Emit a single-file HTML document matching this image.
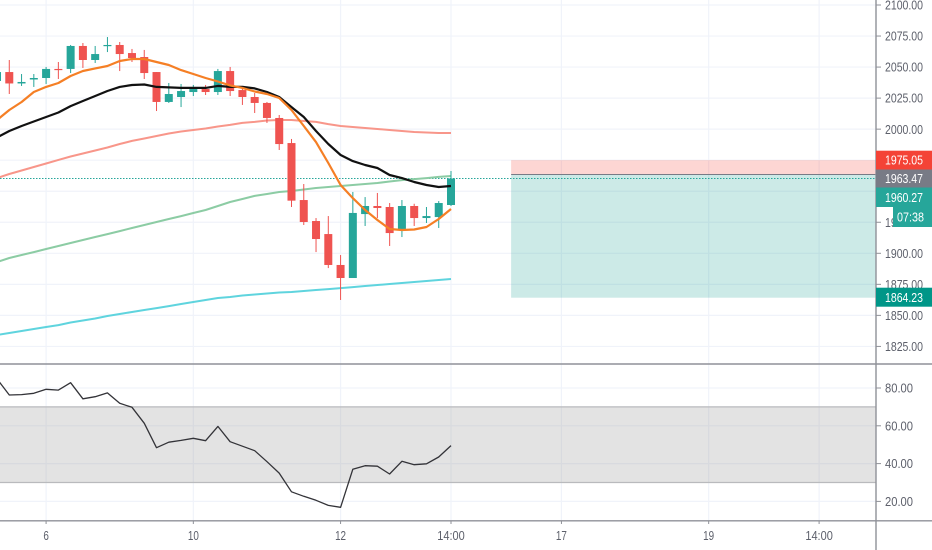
<!DOCTYPE html>
<html>
<head>
<meta charset="utf-8">
<title>Candlestick chart with RSI</title>
<style>
html,body{margin:0;padding:0;background:#fff;width:932px;height:550px;overflow:hidden}
svg{display:block;font-family:"Liberation Sans",sans-serif}
text{font-size:13px}
</style>
</head>
<body>
<svg id="chart" xmlns="http://www.w3.org/2000/svg" width="932" height="550" viewBox="0 0 932 550">
<rect x="0" y="0" width="932" height="550" fill="#ffffff"/>
<g id="grid"></g>
<g id="rsi-band"></g>
<g id="position"></g>
<g id="mas"></g>
<g id="candles"></g>
<g id="fast"></g>
<g id="rsi"></g>
<g id="axes"></g>
<g id="tags"></g>
</svg>
<script>
const openPrices=[2038.8,2046.0,2036.8,2040.0,2041.2,2048.5,2048.5,2067.0,2055.7,2067.0,2067.8,2061.3,2058.1,2046.0,2021.9,2025.9,2029.9,2032.3,2029.9,2046.8,2031.5,2025.9,2021.1,2009.0,1988.8,1942.9,1926.0,1915.5,1890.6,1880.1,1931.6,1938.1,1937.3,1919.6,1938.1,1928.4,1929.2,1938.9];
const highPrices=[2045.0,2055.7,2044.4,2044.4,2050.1,2054.1,2067.8,2069.4,2067.0,2074.2,2070.2,2064.6,2063.8,2046.0,2037.2,2036.4,2035.6,2035.6,2048.5,2050.1,2033.2,2029.1,2021.9,2011.4,1992.1,1955.8,1928.4,1930.0,1898.6,1949.4,1945.3,1948.6,1940.5,1942.9,1939.9,1937.3,1942.1,1966.3];
const lowPrices=[2032.0,2028.3,2034.8,2034.0,2036.4,2040.4,2045.2,2049.3,2053.3,2062.1,2046.8,2054.1,2040.4,2014.6,2021.1,2017.8,2026.7,2027.5,2027.5,2026.7,2019.5,2013.0,2005.0,1983.2,1937.3,1922.8,1901.0,1888.1,1862.4,1880.1,1922.0,1928.4,1905.9,1913.1,1922.0,1924.4,1920.4,1938.1];
const closePrices=[2046.0,2036.8,2038.0,2041.2,2048.5,2048.0,2067.0,2055.7,2060.5,2067.8,2060.5,2057.3,2045.2,2021.9,2028.3,2030.7,2032.3,2029.9,2046.8,2030.7,2025.9,2021.1,2009.0,1988.0,1942.4,1925.2,1911.5,1890.6,1880.1,1932.5,1938.1,1936.5,1916.3,1938.1,1928.4,1930.0,1940.5,1960.27];
const fastEma=[2007.4,2015.4,2021.9,2029.9,2034.0,2037.2,2042.8,2046.8,2048.9,2050.9,2054.9,2056.5,2056.5,2054.1,2051.7,2047.6,2044.4,2041.2,2038.4,2035.2,2033.2,2030.3,2028.3,2025.1,2015.4,2002.5,1989.6,1972.7,1955.0,1944.5,1934.9,1926.8,1919.6,1918.8,1919.2,1921.2,1927.6,1935.7];
const blackMa=[1993.3,1998.5,2002.5,2006.2,2009.8,2013.4,2018.6,2022.7,2026.7,2030.7,2034.0,2035.6,2036.0,2034.0,2033.6,2033.2,2033.2,2033.2,2034.8,2034.0,2034.0,2032.8,2029.9,2025.9,2017.8,2009.8,1998.5,1988.0,1979.2,1974.3,1971.1,1968.7,1963.1,1960.6,1957.4,1955.0,1953.4,1954.2];
const salmonMa=[1960.6,1963.9,1966.7,1969.5,1972.3,1975.2,1978.0,1980.4,1982.8,1985.2,1988.0,1990.5,1992.5,1994.5,1996.5,1998.1,1999.3,2000.5,2002.1,2003.4,2005.0,2005.8,2007.0,2007.4,2007.4,2006.6,2005.8,2004.1,2002.5,2001.7,2000.9,2000.1,1999.3,1998.5,1997.7,1997.3,1996.9,1996.9];
const greenMa=[1893.0,1896.2,1898.6,1901.0,1903.5,1905.9,1908.3,1910.7,1913.1,1915.5,1917.9,1920.4,1922.8,1925.2,1927.6,1930.0,1932.5,1934.9,1938.1,1941.3,1943.7,1946.2,1947.8,1949.4,1950.2,1951.4,1952.6,1953.4,1954.2,1955.0,1955.8,1956.6,1957.8,1959.0,1959.8,1960.6,1961.5,1962.3];
const cyanMa=[1834.2,1835.8,1837.4,1839.0,1840.6,1842.2,1844.3,1845.9,1847.5,1849.5,1851.1,1852.7,1854.3,1855.9,1857.5,1859.2,1860.8,1862.4,1864.0,1864.8,1866.0,1866.8,1867.6,1868.4,1868.8,1869.6,1870.4,1871.2,1872.0,1872.8,1873.7,1874.5,1875.3,1876.1,1876.9,1877.7,1878.5,1879.3];
const rsiValues=[84.8,76.3,76.5,77.2,79.3,78.9,82.8,74.3,75.4,77.4,71.9,69.8,61.3,48.4,51.3,52.3,53.4,52.1,59.7,51.6,49.2,46.8,41.0,35.0,25.1,22.7,20.6,17.9,16.9,37.0,38.9,38.6,34.5,41.2,39.4,39.9,43.5,49.5];
const priceTicks=[2100,2075,2050,2025,2000,1975,1950,1925,1900,1875,1850,1825];
const rsiTicks=[80,60,40,20];
const timeLabels=["6","10","12","14:00","17","19","14:00"];
const timeBars=[4,16,28,37,46,58,67];
const lastPrice=1960.27;
const entryPrice=1963.47;
const stopPrice=1975.05;
const targetPrice=1864.23;
const positionStartBar=41.9;

const NS="http://www.w3.org/2000/svg";
const xBar=i=>451+(i-37)*12.27;
const yPrice=p=>5+(2100-p)*1.2415;
const yRsi=r=>388+(80-r)*1.89;
const AXIS_X=876;
function mk(parent,tag,attrs,txt){
  const el=document.createElementNS(NS,tag);
  for(const k in attrs)el.setAttribute(k,attrs[k]);
  if(txt!==undefined)el.textContent=txt;
  parent.appendChild(el);
  return el;
}
const $=id=>document.getElementById(id);
const GRID="#f0f3fa";
let el;

/* grid */
priceTicks.forEach(p=>{
  el=mk($('grid'),'line',{x1:0,x2:AXIS_X,y1:yPrice(p),y2:yPrice(p),stroke:GRID,'stroke-width':1.2});
  
  
});
rsiTicks.forEach(r=>{
  el=mk($('grid'),'line',{x1:0,x2:AXIS_X,y1:yRsi(r),y2:yRsi(r),stroke:GRID,'stroke-width':1.2});
  
  
});
timeBars.forEach(b=>{
  el=mk($('grid'),'line',{x1:xBar(b),x2:xBar(b),y1:0,y2:521,stroke:GRID,'stroke-width':1.2});
  
  
});

/* rsi band */
el=mk($('rsi-band'),'rect',{x:0,y:yRsi(70),width:AXIS_X,height:yRsi(30)-yRsi(70),fill:'#9a9a9a','fill-opacity':0.28});


[70,30].forEach(r=>{
  el=mk($('rsi-band'),'line',{x1:0,x2:AXIS_X,y1:yRsi(r),y2:yRsi(r),stroke:'#b9babd','stroke-width':1.2});
  
  
});

/* position tool */
const px0=xBar(positionStartBar);
el=mk($('position'),'rect',{x:px0,y:yPrice(stopPrice),width:AXIS_X-px0,height:yPrice(entryPrice)-yPrice(stopPrice),fill:'#f44336','fill-opacity':0.22});


el=mk($('position'),'rect',{x:px0,y:yPrice(entryPrice),width:AXIS_X-px0,height:yPrice(targetPrice)-yPrice(entryPrice),fill:'#009688','fill-opacity':0.2});


el=mk($('position'),'line',{x1:px0,x2:AXIS_X,y1:yPrice(entryPrice),y2:yPrice(entryPrice),stroke:'#787b86','stroke-width':1});



/* last price dotted */
el=mk($('position'),'line',{x1:0,x2:AXIS_X,y1:yPrice(lastPrice),y2:yPrice(lastPrice),stroke:'#26a69a','stroke-width':1,'stroke-dasharray':'1.5 1.5'});



function pts(arr,yf){return arr.map((v,i)=>xBar(i).toFixed(1)+','+yf(v).toFixed(1)).join(' ');}

/* slow MAs */
el=mk($('mas'),'polyline',{points:pts(cyanMa,yPrice),fill:'none',stroke:'#5fd4de','stroke-width':2,'stroke-linejoin':'round'});


el=mk($('mas'),'polyline',{points:pts(greenMa,yPrice),fill:'none',stroke:'#8ccca4','stroke-width':2,'stroke-linejoin':'round'});


el=mk($('mas'),'polyline',{points:pts(salmonMa,yPrice),fill:'none',stroke:'#f8968a','stroke-width':2,'stroke-linejoin':'round'});



/* candles */
closePrices.forEach((c,i)=>{
  const o=openPrices[i],up=c>=o,col=up?'#26a69a':'#ef5350',x=xBar(i);
  const top=yPrice(Math.max(o,c)),bot=yPrice(Math.min(o,c));
  el=mk($('candles'),'line',{x1:x,x2:x,y1:yPrice(highPrices[i]),y2:yPrice(lowPrices[i]),stroke:col,'stroke-width':1});
  
  
  el=mk($('candles'),'rect',{x:x-4,y:top,width:8,height:Math.max(bot-top,1.2),fill:col});
  
  
});

/* fast lines */
el=mk($('fast'),'polyline',{points:pts(blackMa,yPrice),fill:'none',stroke:'#111111','stroke-width':2.2,'stroke-linejoin':'round'});


el=mk($('fast'),'polyline',{points:pts(fastEma,yPrice),fill:'none',stroke:'#f57f25','stroke-width':2.2,'stroke-linejoin':'round'});



/* rsi line */
el=mk($('rsi'),'polyline',{points:pts(rsiValues,yRsi),fill:'none',stroke:'#333338','stroke-width':1.3,'stroke-linejoin':'round'});



/* axes */
const AXC='#8f9198',TXT='#5d606b';
el=mk($('axes'),'line',{x1:0,x2:932,y1:364,y2:364,stroke:AXC,'stroke-width':1.4});


el=mk($('axes'),'line',{x1:0,x2:932,y1:520.8,y2:520.8,stroke:AXC,'stroke-width':1.4});


el=mk($('axes'),'line',{x1:AXIS_X,x2:AXIS_X,y1:0,y2:550,stroke:AXC,'stroke-width':1.4});


priceTicks.forEach(p=>{
  const y=yPrice(p);
  el=mk($('axes'),'line',{x1:AXIS_X,x2:881,y1:y,y2:y,stroke:AXC,'stroke-width':1});
  
  
  el=mk($('axes'),'text',{x:885,y:y+4.6,fill:TXT,textLength:38,lengthAdjust:'spacingAndGlyphs'},p.toFixed(2));
  
  
});
rsiTicks.forEach(r=>{
  const y=yRsi(r);
  el=mk($('axes'),'line',{x1:AXIS_X,x2:881,y1:y,y2:y,stroke:AXC,'stroke-width':1});
  
  
  el=mk($('axes'),'text',{x:885,y:y+4.6,fill:TXT,textLength:28,lengthAdjust:'spacingAndGlyphs'},r.toFixed(2));
  
  
});
timeLabels.forEach((t,i)=>{
  const x=xBar(timeBars[i]);
  el=mk($('axes'),'line',{x1:x,x2:x,y1:521,y2:524,stroke:AXC,'stroke-width':1});
  
  
  el=mk($('axes'),'text',{x:x,y:540,fill:TXT,'text-anchor':'middle',textLength:t.length*5.5,lengthAdjust:'spacingAndGlyphs'},t);
  
  
});

/* price tags */
function tag(x,y,w,h,fill,label,name){
  el=mk($('tags'),'rect',{x:x,y:y,width:w,height:h,fill:fill});
  
  
  el=mk($('tags'),'text',{x:x===AXIS_X?885:x+4,y:y+h/2+4.6,fill:'#ffffff',textLength:label.length>5?38:27,lengthAdjust:'spacingAndGlyphs'},label);
  
  
}
tag(AXIS_X,150.7,56,18.8,'#f44336',stopPrice.toFixed(2),'stop-price-tag');
tag(AXIS_X,169.5,56,18,'#787b86',entryPrice.toFixed(2),'entry-price-tag');
tag(AXIS_X,187.5,56,19.5,'#26a69a',lastPrice.toFixed(2),'last-price-tag');
tag(893,207,39,20,'#26a69a','07:38','bar-countdown-tag');
tag(AXIS_X,287.7,56,19,'#009688',targetPrice.toFixed(2),'target-price-tag');
</script>
</body>
</html>
